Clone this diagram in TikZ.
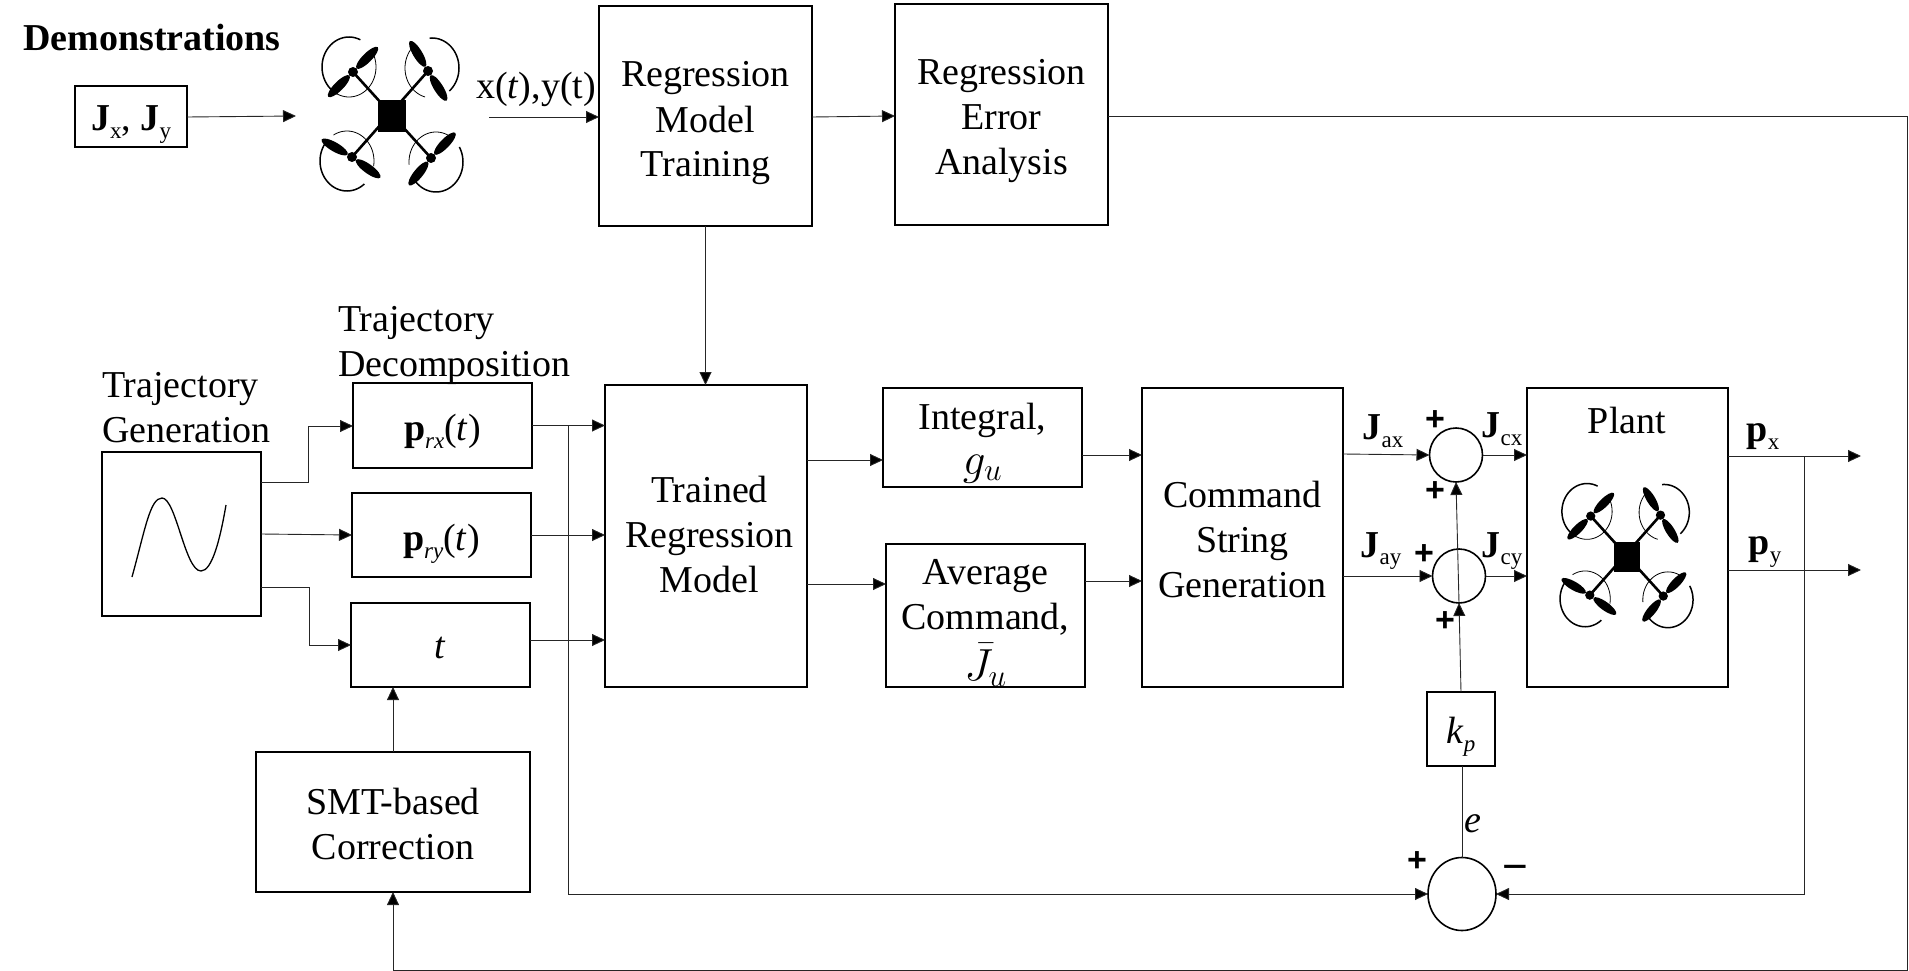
\documentclass[tikz,border=0pt]{standalone}
\usepackage{fix-cm}
\usepackage{fontspec}
\setmainfont{Liberation Serif}
\newfontfamily\plusfont{Liberation Sans}
\usetikzlibrary{arrows.meta,shapes.geometric}
\newcommand{\subt}[1]{\raisebox{-0.2em}{\fontsize{23}{23}\selectfont #1}}
\newcommand{\bJ}{\textbf{J}}
\newcommand{\bp}{\textbf{p}}
\newcommand{\dn}[2]{\raisebox{-#1pt}[\height][\depth]{#2}}
\newcommand{\dnt}[2]{\dn{#1}{\begin{tabular}{@{}c@{}}#2\end{tabular}}}
\newcommand{\bigmath}[1]{{\fontsize{45}{45}\selectfont #1}}
\newcommand{\dronegl}[3]{%
\begin{scope}[shift={(#1,#2)},scale=#3]
  \fill (-14,-16) rectangle (14,16);
  \draw[line width=2.6pt] (-39,-44) -- (39,42) (36,-45) -- (-40,41);
  \foreach \hx/\hy/\aA/\aB in {-39/-44/45/225, 36/-45/121/302, -40/41/150/-36, 39/42/46/231}{
    \fill (\hx,\hy) circle (5);
    \fill[shift={(\hx,\hy)},rotate=\aA] (20,0) ellipse (15 and 4.6);
    \fill[shift={(\hx,\hy)},rotate=\aB] (20,0) ellipse (15 and 4.6);
  }
  \foreach \cx/\cy/\ta/\tb/\na/\nb in {-43/-49/115/295/-35/115, 40/-48/265/410/105/225, -45/45/50/215/240/370, 44/46/-30/140/175/300}{
    \draw[line width=1.5pt] plot[smooth,domain=\ta:\tb,samples=30] ({\cx+27*cos(\x)},{\cy+30*sin(\x)});
    \draw[line width=0.8pt] plot[smooth,domain=\na:\nb,samples=30] ({\cx+27*cos(\x)},{\cy+30*sin(\x)});
  }
\end{scope}}
\tikzset{
  every node/.style={font=\fontsize{38}{45}\selectfont,inner sep=0pt,outer sep=0pt,align=center},
  blk/.style={draw,line width=1.6pt},
  sumc/.style={draw,ellipse,line width=1.6pt},
  sgn/.style={font=\plusfont\bfseries\fontsize{34}{34}\selectfont},
  arr/.style={line width=0.9pt,draw=black!85,-{Triangle[length=13pt,width=12pt,fill=black]}},
  wire/.style={line width=0.9pt,draw=black!85}
}
\begin{document}
\begin{tikzpicture}[x=1pt,y=-1pt]
\useasboundingbox (0,0) rectangle (1909,971);
% blocks
\node[blk,minimum width=112pt,minimum height=61pt] (jbox) at (131,116.5) {\dn{8}{\bJ\subt{x}, \bJ\subt{y}}};
\node[blk,minimum width=213pt,minimum height=220pt] (rmt) at (705.5,116) {\dnt{7}{Regression\\Model\\Training}};
\node[blk,minimum width=213pt,minimum height=221pt] (rea) at (1001.5,114.5) {\dnt{6}{Regression\\Error\\Analysis}};
\node[blk,minimum width=159pt,minimum height=164pt] (tg) at (181.5,534) {};
\node[blk,minimum width=179pt,minimum height=85pt] (prx) at (442.5,425.5) {\dn{6}{\bp\subt{\textit{rx}}(\textit{t})}};
\node[blk,minimum width=179pt,minimum height=84pt] (pry) at (441.5,535) {\dn{9}{\bp\subt{\textit{ry}}(\textit{t})}};
\node[blk,minimum width=179pt,minimum height=84pt] (tbox) at (440.5,645) {\dn{3}{\textit{t}}};
\node[blk,minimum width=202pt,minimum height=302pt] (trained) at (706,536) {\hspace*{7pt}\dnt{2}{Trained\\Regression\\Model}};
\node[blk,minimum width=199pt,minimum height=99pt] (integ) at (982.5,437.5) {\dnt{5}{Integral,\\\bigmath{$g_u$}}};
\node[blk,minimum width=199pt,minimum height=143pt] (avg) at (985.5,615.5) {\dnt{8}{Average\\Command,\\\bigmath{$\bar{J}_u$}}};
\node[blk,minimum width=201pt,minimum height=299pt] (cmd) at (1242.5,537.5) {\dnt{6}{Command\\String\\Generation}};
\node[blk,minimum width=201pt,minimum height=299pt] (plant) at (1627.5,537.5) {};
\node[blk,minimum width=68pt,minimum height=74pt] (kp) at (1461,729) {\dn{8}{\textit{k}\subt{\textit{p}}}};
\node[blk,minimum width=274pt,minimum height=140pt] (smt) at (393,822) {\dnt{6}{SMT-based\\Correction}};
\node[sumc,minimum width=53pt,minimum height=54pt] (s1) at (1456,455) {};
\node[sumc,minimum width=53pt,minimum height=54pt] (s2) at (1459,576) {};
\node[sumc,minimum width=68pt,minimum height=73pt] (s3) at (1462,894) {};
% labels
\node[font=\bfseries\fontsize{38}{45}\selectfont] (ldemo) at (152,38) {Demonstrations};
\node (lxy) at (536,89) {x(\textit{t}),y(t)};
\node[anchor=west,align=left] (ltg) at (102,408) {Trajectory\\Generation};
\node[anchor=west,align=left] (ltd) at (338,345) {Trajectory\\Decomposition};
\node (lplant) at (1627,420) {Plant};
\node (ljax) at (1383,431) {\bJ\subt{ax}};
\node (ljcx) at (1502,429) {\bJ\subt{cx}};
\node (ljay) at (1381,551) {\bJ\subt{ay}};
\node (ljcy) at (1502,551) {\bJ\subt{cy}};
\node (lpx) at (1763,437) {\bp\subt{x}};
\node (lpy) at (1765,552) {\bp\subt{y}};
\node (le) at (1473,824) {\textit{e}};
\node[sgn] (p1) at (1435,421) {+};
\node[sgn] (p2) at (1435,492) {+};
\node[sgn] (p3) at (1424,555) {+};
\node[sgn] (p4) at (1445,622) {+};
\node[sgn] (p5) at (1417,862) {+};
\node[font=\plusfont\fontsize{44}{44}\selectfont] (m1) at (1515,873) {\symbol{"2212}};
% free ends
\coordinate (jend) at (296,116);
\coordinate (xystart) at (489,117);
\coordinate (pxend) at (1861,456);
\coordinate (pyend) at (1861,570);
\coordinate (fbtop) at (568,425.5);
\coordinate (fbbot) at (1804,456);
% connectors
\draw[arr] (jbox.east |- 0,117) -- (jend);
\draw[arr] (xystart) -- (rmt.west |- 0,117);
\draw[arr] (rmt.east |- 0,117) -- (rea.west |- 0,116);
\draw[arr] (rea.east |- 0,116) -- (1907,116) -- (1907,970) -- (393,970) -- (smt.south);
\draw[arr] (rmt.south) -- (trained.north -| rmt.south);
\draw[arr] (tg.east |- 0,482) -- (308,482) -- (308,426) -- (prx.west |- 0,426);
\draw[arr] (tg.east |- 0,534) -- (pry.west |- 0,535);
\draw[arr] (tg.east |- 0,587) -- (309,587) -- (309,645) -- (tbox.west |- 0,645);
\draw[arr] (smt.north) -- (tbox.south -| smt.north);
\draw[arr] (prx.east) -- (trained.west |- prx.east);
\draw[arr] (pry.east) -- (trained.west |- pry.east);
\draw[arr] (tbox.east |- 0,640) -- (trained.west |- 0,640);
\draw[arr] (fbtop) -- (568,894) -- (s3.west);
\draw[arr] (trained.east |- 0,460) -- (integ.west |- 0,460);
\draw[arr] (trained.east |- 0,584) -- (avg.west |- 0,584);
\draw[arr] (integ.east |- 0,455) -- (cmd.west |- 0,455);
\draw[arr] (avg.east |- 0,581) -- (cmd.west |- 0,581);
\draw[arr] (cmd.east |- 0,454) -- (s1.west);
\draw[arr] (cmd.east |- 0,576) -- (s2.west);
\draw[arr] (s1.east) -- (plant.west |- s1.east);
\draw[arr] (s2.east) -- (plant.west |- s2.east);
\draw[arr] (kp.north) -- (s2.south);
\draw[arr] (s2.south) -- (s1.south);
\draw[wire] (s3.north) -- (kp.south -| s3.north);
\draw[arr] (plant.east |- pxend) -- (pxend);
\draw[arr] (plant.east |- pyend) -- (pyend);
\draw[arr] (fbbot) -- (1804,894) -- (s3.east);
% icons
\draw[line width=1.3pt] (132,577) .. controls (145,530) and (150,498) .. (162,498) .. controls (176,498) and (185,571) .. (201,571) .. controls (212,571) and (220,540) .. (226,505);
\dronegl{392}{116}{1}
\dronegl{1627}{557}{0.93}
\end{tikzpicture}
\end{document}
